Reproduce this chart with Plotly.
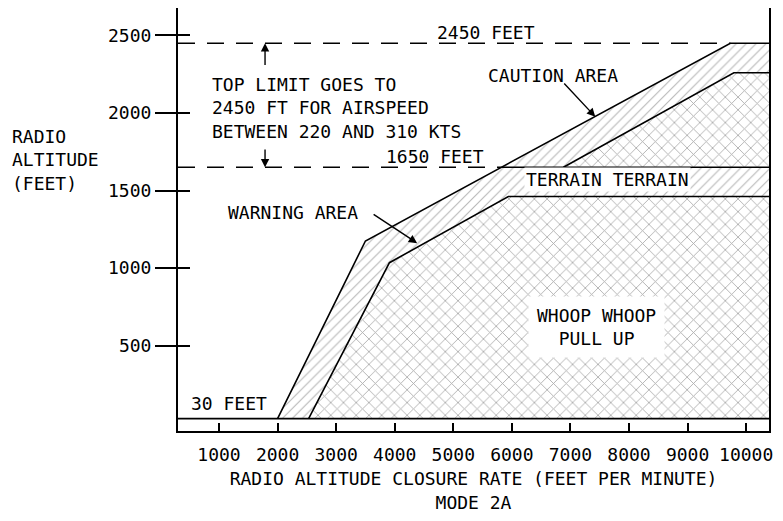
import numpy as np
import plotly.graph_objects as go

# GPWS mode 2A envelope
# closure rate in feet per minute, radio altitude in feet
caution_rate = [2000, 3500, 9730, 10600]
caution_alt = [30, 1175, 2450, 2450]

warn_rate = [2530, 3910, 5940, 10600]
warn_alt = [30, 1035, 1462, 1462]

warn_hi_rate = [6880, 9790, 10600]
warn_hi_alt = [1650, 2260, 2260]

floor_alt = 30
low_limit = 1650
high_limit = 2450

x_range = [300, 10390]
y_range = [-50, 2677]
x_ticks = [1000, 2000, 3000, 4000, 5000, 6000, 7000, 8000, 9000, 10000]
y_ticks = [500, 1000, 1500, 2000, 2500]

FONT = "DejaVu Sans Mono"
x_end = caution_rate[-1]

fig = go.Figure()

# caution area - diagonal hatch under the outer boundary
fig.add_trace(go.Scatter(
    x=caution_rate + [x_end, caution_rate[0]],
    y=caution_alt + [floor_alt, caution_alt[0]],
    fill="toself", mode="none", fillcolor="white",
    fillpattern=dict(shape="/", size=7, solidity=0.16, fgcolor="#707070", bgcolor="white"),
    hoverinfo="skip", showlegend=False))

cross = dict(shape="x", size=9, solidity=0.18, fgcolor="#555555", bgcolor="white")

# warning area below terrain line - crosshatch
fig.add_trace(go.Scatter(
    x=warn_rate + [x_end, warn_rate[0]],
    y=warn_alt + [floor_alt, warn_alt[0]],
    fill="toself", mode="none", fillcolor="white", fillpattern=cross,
    hoverinfo="skip", showlegend=False))

# warning area above 1650 ft
fig.add_trace(go.Scatter(
    x=warn_hi_rate + [x_end, warn_hi_rate[0]],
    y=warn_hi_alt + [low_limit, warn_hi_alt[0]],
    fill="toself", mode="none", fillcolor="white", fillpattern=cross,
    hoverinfo="skip", showlegend=False))

line = dict(color="black", width=1.6)
for xs, ys in [(caution_rate, caution_alt), (warn_rate, warn_alt), (warn_hi_rate, warn_hi_alt)]:
    fig.add_trace(go.Scatter(x=xs, y=ys, mode="lines", line=line,
                             hoverinfo="skip", showlegend=False))

# where the outer boundary meets the 1650 ft limit
cross_low = np.interp(low_limit, caution_alt[:3], caution_rate[:3])

dash = dict(color="black", width=1.6, dash="17px,12px")
fig.add_trace(go.Scatter(x=[x_range[0], cross_low], y=[low_limit, low_limit], mode="lines",
                         line=dash, hoverinfo="skip", showlegend=False))
fig.add_trace(go.Scatter(x=[cross_low, x_end], y=[low_limit, low_limit], mode="lines",
                         line=line, hoverinfo="skip", showlegend=False))
fig.add_trace(go.Scatter(x=[x_range[0], caution_rate[2]], y=[high_limit, high_limit], mode="lines",
                         line=dash, hoverinfo="skip", showlegend=False))
fig.add_trace(go.Scatter(x=[x_range[0], x_end], y=[floor_alt, floor_alt], mode="lines",
                         line=line, hoverinfo="skip", showlegend=False))

# dummy trace so the inner tick axis is drawn
fig.add_trace(go.Scatter(x=[None], y=[None], yaxis="y2", showlegend=False))

txt = dict(family=FONT, size=18, color="black")


def label(text, x, y, **kw):
    fig.add_annotation(text=text, x=x, y=y, showarrow=False, font=txt, **kw)


label("2450 FEET", 5562, 2521)
label("1650 FEET", 4691, 1719)
label("TOP LIMIT GOES TO<br>2450 FT FOR AIRSPEED<br>BETWEEN 220 AND 310 KTS",
      846, 2030, xanchor="left", align="left")
label("CAUTION AREA", 6707, 2245)
label("WARNING AREA", 2264, 1360)
label("TERRAIN TERRAIN", 7630, 1571, bgcolor="white")
label("WHOOP WHOOP<br>PULL UP", 7443, 621, bgcolor="white", borderpad=8)
label("30 FEET", 1170, 128)
fig.add_annotation(text="RADIO<br>ALTITUDE<br>(FEET)", xref="paper", yref="paper",
                   x=-0.285, y=0.64, xanchor="left", align="left", showarrow=False, font=txt)

arrow = dict(showarrow=True, arrowhead=2, arrowsize=1.2, arrowwidth=1.4, arrowcolor="black",
             axref="x", ayref="y", text="")
fig.add_annotation(x=1786, y=high_limit, ax=1786, ay=2300, **arrow)
fig.add_annotation(x=1786, y=low_limit, ax=1786, ay=1775, **arrow)
fig.add_annotation(x=7424, y=1976, ax=6870, ay=2200, **arrow)
fig.add_annotation(x=4383, y=1161, ax=3614, ay=1353, **arrow)

# the page body adds an 8px offset, so the figure is sized to fit the window
fig.update_layout(
    width=775, height=513,
    margin=dict(l=170, r=14, t=0, b=90),
    plot_bgcolor="white", paper_bgcolor="white",
    font=txt,
    xaxis=dict(range=x_range, tickvals=x_ticks, ticktext=[str(v) for v in x_ticks],
               ticks="inside", ticklen=8, tickwidth=1.5, automargin=False,
               tickcolor="black", showgrid=False, zeroline=False, showline=True, linecolor="black",
               linewidth=2, mirror=True, ticklabelstandoff=6,
               title=dict(text="RADIO ALTITUDE CLOSURE RATE (FEET PER MINUTE)<br>MODE 2A",
                          font=txt, standoff=9)),
    yaxis=dict(range=y_range, tickvals=y_ticks, ticks="outside", ticklen=21, tickwidth=1.5,
               automargin=False,
               tickcolor="black", showgrid=False, zeroline=False, showline=True, linecolor="black",
               linewidth=2, mirror=True),
    yaxis2=dict(range=y_range, overlaying="y", side="left", tickvals=y_ticks, ticks="inside",
                ticklen=12, tickwidth=1.5, tickcolor="black", showticklabels=False,
                automargin=False, showgrid=False, zeroline=False, showline=False),
)

fig.write_html("out.html")
